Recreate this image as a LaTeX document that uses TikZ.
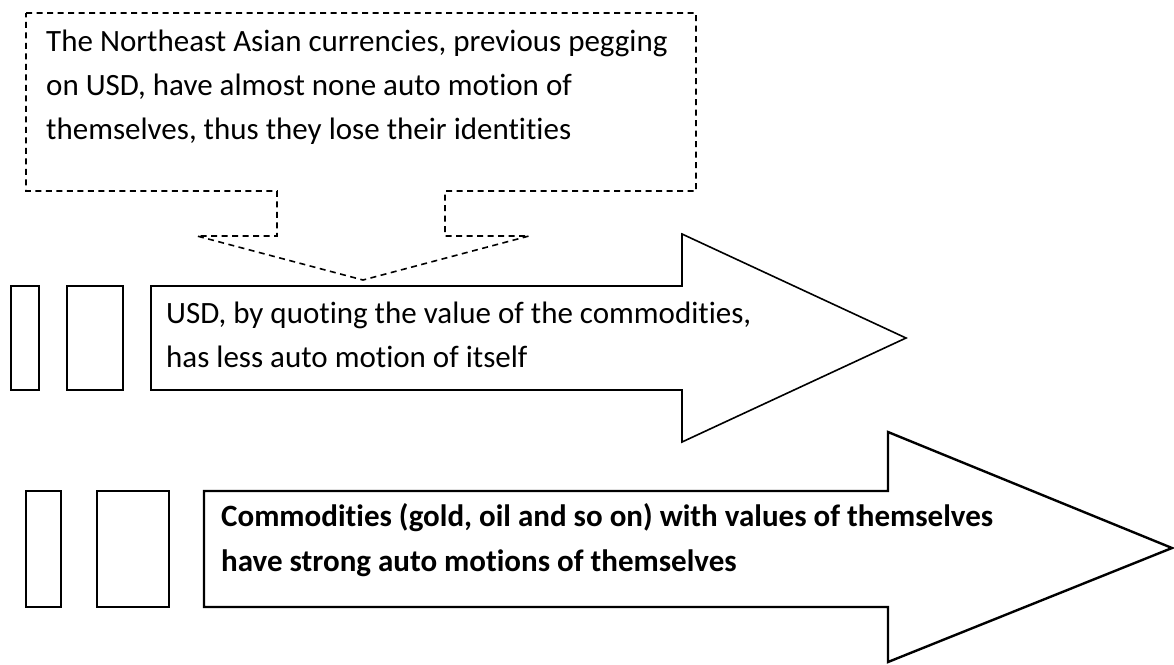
\documentclass[tikz,border=0pt]{standalone}
\usepackage{fontspec}
\setmainfont{Carlito}[Ligatures=NoCommon]
\begin{document}
\begin{tikzpicture}[x=1pt,y=-1pt,
  callout/.style={draw=black,line width=1.6pt,dash pattern=on 6pt off 4.5pt},
  arrowA/.style={draw=black,line width=1.6pt,fill=white,line join=miter},
  arrowB/.style={draw=black,line width=2.4pt,fill=white,line join=miter},
  txt/.style={anchor=west,inner sep=0pt,align=left,font=\fontsize{31}{44}\selectfont},
  txtb/.style={anchor=west,inner sep=0pt,align=left,font=\fontsize{31}{45}\selectfont\bfseries}]
\useasboundingbox (0,0) rectangle (1174,664);
% callout
\draw[callout] (26,13) -- (696,13) -- (696,191) -- (445,191) -- (445,236) -- (529,236)
  -- (363,280) -- (197,236) -- (277,236) -- (277,191) -- (26,191) -- cycle;
\node[txt] (t1) at (46,87) {The Northeast Asian currencies, previous pegging\\on USD, have almost none auto motion of\\themselves, thus they lose their identities};
% middle arrow
\draw[arrowA] (11,286) rectangle (39,390);
\draw[arrowA] (67,286) rectangle (123,390);
\draw[arrowA] (151,286) -- (682,286) -- (682,234) -- (906,338) -- (682,442) -- (682,390) -- (151,390) -- cycle;
\node[txt] (t2) at (166,335) {USD, by quoting the value of the commodities,\\has less auto motion of itself};
% bottom arrow
\draw[arrowB] (26,491) rectangle (61,607);
\draw[arrowB] (97,491) rectangle (169,607);
\draw[arrowB] (204,491) -- (888,491) -- (888,432) -- (1172,548) -- (888,662) -- (888,607) -- (204,607) -- cycle;
\node[txtb] (t3) at (221,540) {Commodities (gold, oil and so on) with values of themselves\\have strong auto motions of themselves};
\end{tikzpicture}
\end{document}
